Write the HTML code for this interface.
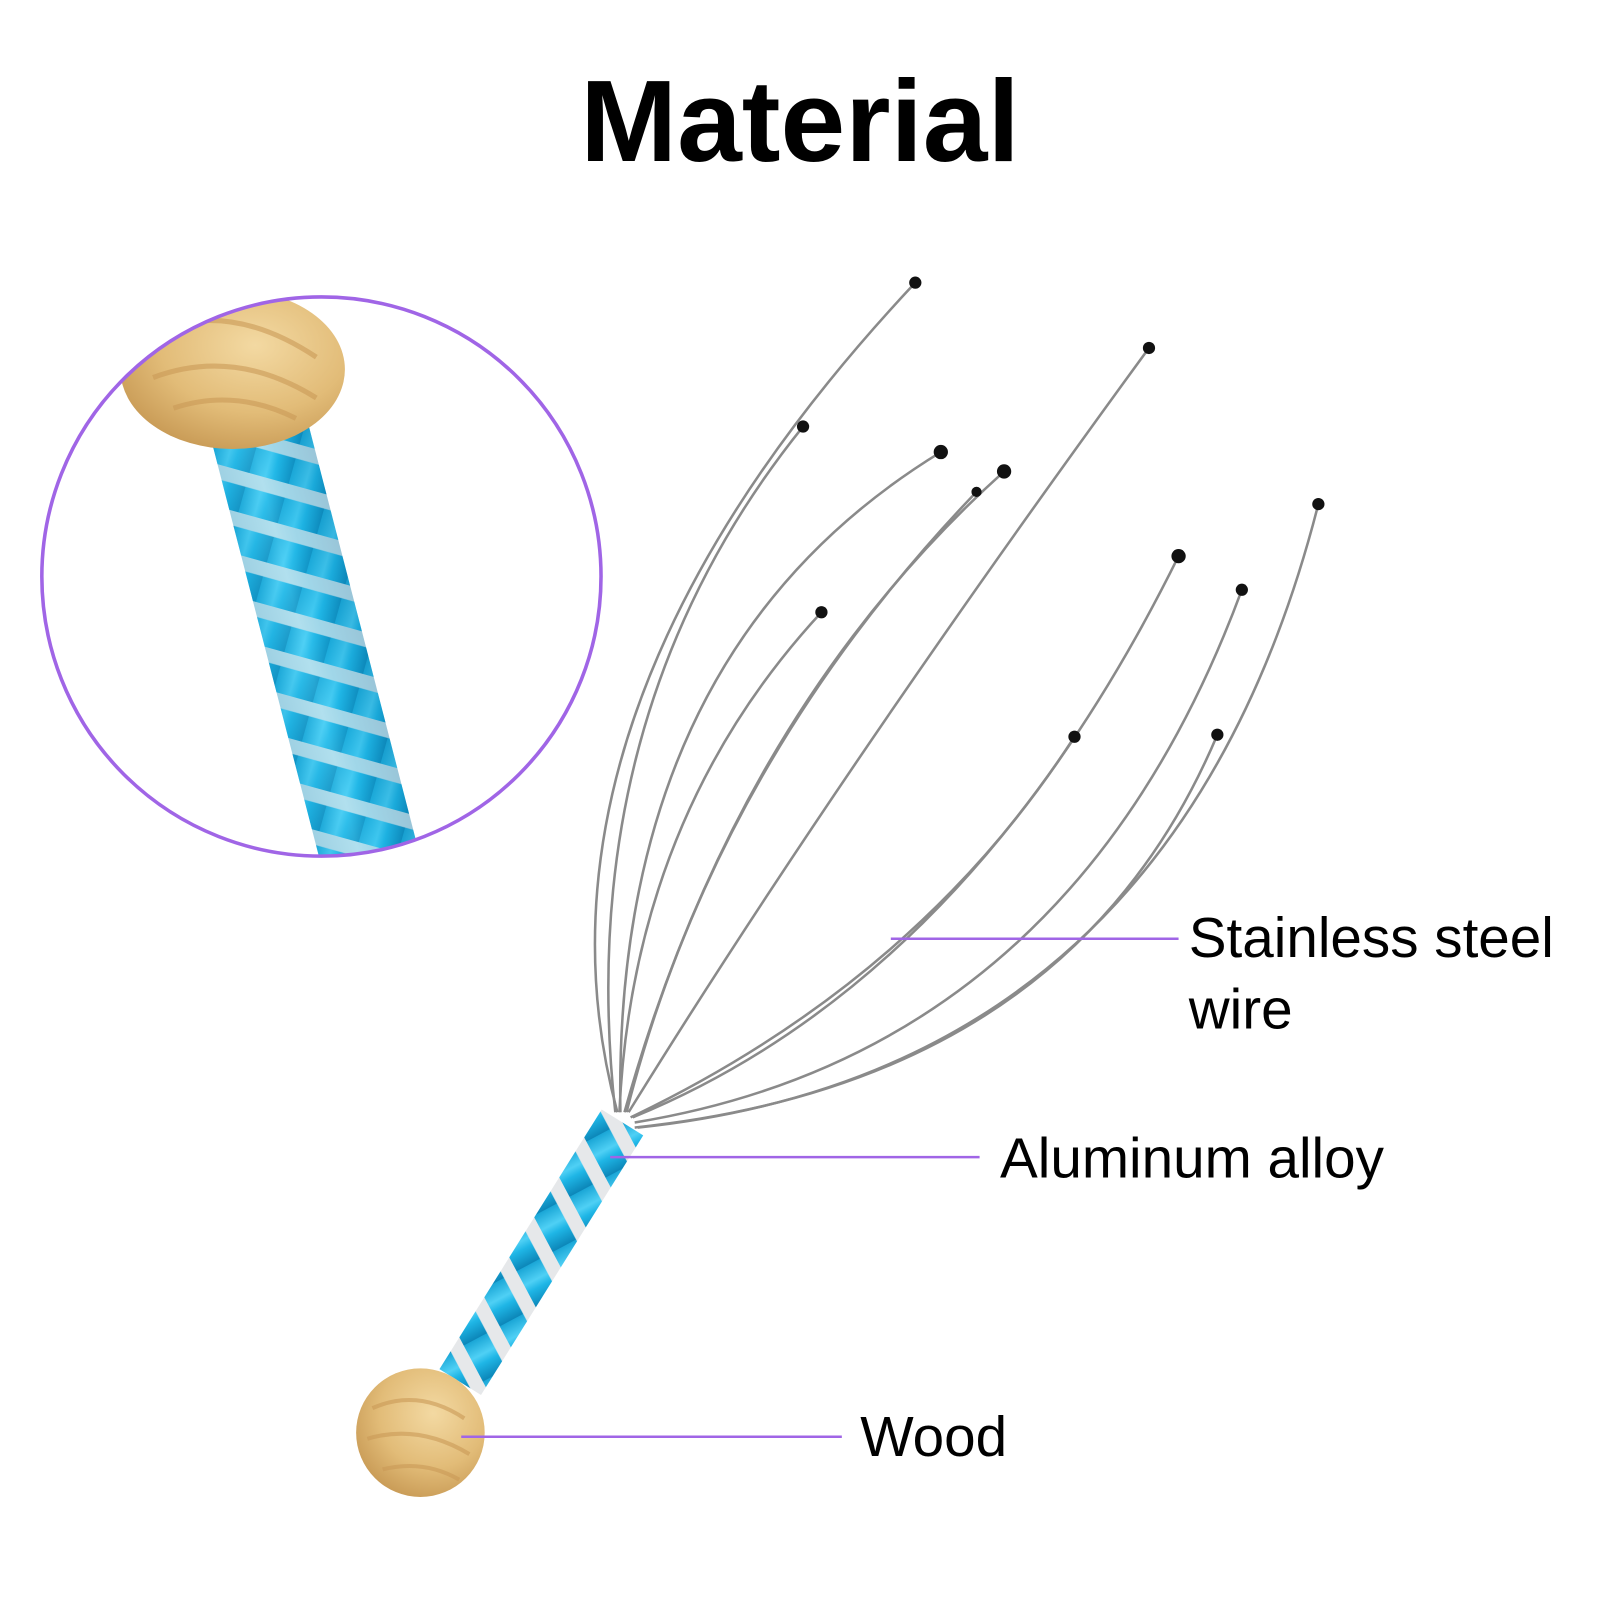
<!DOCTYPE html>
<html><head><meta charset="utf-8"><style>
html,body{margin:0;padding:0;background:#fff;width:1600px;height:1600px;overflow:hidden}
svg{display:block}
</style></head><body>
<svg width="1600" height="1600" viewBox="0 0 1568 1568" xmlns="http://www.w3.org/2000/svg">
<defs>
<clipPath id="cc"><circle cx="315" cy="565" r="274"/></clipPath>
<linearGradient id="blue" x1="0" y1="0" x2="1" y2="0">
<stop offset="0" stop-color="#1aa6d6"/><stop offset="0.4" stop-color="#4fd0f5"/><stop offset="0.6" stop-color="#1fb6e6"/><stop offset="1" stop-color="#0c86b8"/></linearGradient>
<radialGradient id="wood" cx="0.6" cy="0.35" r="0.7"><stop offset="0" stop-color="#f3d9a2"/><stop offset="0.6" stop-color="#e2bc78"/><stop offset="1" stop-color="#c89a55"/></radialGradient>
<pattern id="stripe" width="40" height="40" patternUnits="userSpaceOnUse" patternTransform="rotate(30)">
<rect width="40" height="40" fill="url(#blue)"/><rect y="0" width="40" height="14" fill="#e6e8ea"/></pattern>
</defs>
<text x="784" y="158" text-anchor="middle" font-family="Liberation Sans, sans-serif" font-weight="bold" font-size="114" fill="#000">Material</text>
<g clip-path="url(#cc)">
<g transform="translate(255,425) rotate(-14.5)">
<rect x="-48" y="0" width="96" height="430" fill="url(#stripe)"/>
<rect x="-48" y="0" width="96" height="430" fill="url(#blue)" opacity="0.35"/>
</g>
<ellipse cx="228" cy="362" rx="110" ry="78" fill="url(#wood)"/>
<path d="M140 330 q80 -40 170 20 M150 370 q80 -30 160 20 M170 400 q60 -20 120 10" stroke="#c99a56" stroke-width="5" fill="none" opacity="0.6"/>
</g>
<circle cx="315" cy="565" r="274" fill="none" stroke="#a065e6" stroke-width="3.5"/>
<g fill="none" stroke="#8a8a8a" stroke-width="2.5">
<path d="M605 1090 Q500 700 897 277"/>
<path d="M603 1090 Q560 700 787 418"/>
<path d="M608 1090 Q600 640 922 443"/>
<path d="M612 1090 Q720 700 984 462"/>
<path d="M614 1090 Q700 750 957 482"/>
<path d="M616 1090 Q820 760 1126 341"/>
<path d="M607 1090 Q620 800 805 600"/>
<path d="M620 1095 Q950 960 1155 545"/>
<path d="M622 1100 Q1050 1030 1217 578"/>
<path d="M625 1105 Q1150 1050 1292 494"/>
<path d="M618 1095 Q900 960 1053 722"/>
<path d="M622 1105 Q1050 1060 1193 720"/>
</g>
<g fill="#111">
<circle cx="897" cy="277" r="6"/><circle cx="787" cy="418" r="6"/><circle cx="922" cy="443" r="7"/><circle cx="984" cy="462" r="7"/><circle cx="957" cy="482" r="5"/><circle cx="1126" cy="341" r="6"/><circle cx="805" cy="600" r="6"/><circle cx="1155" cy="545" r="7"/><circle cx="1217" cy="578" r="6"/><circle cx="1292" cy="494" r="6"/><circle cx="1053" cy="722" r="6"/><circle cx="1193" cy="720" r="6"/>
</g>
<g transform="translate(610,1100) rotate(32)">
<rect x="-24" y="0" width="48" height="300" fill="url(#stripe)"/>
</g>
<circle cx="412" cy="1404" r="63" fill="url(#wood)"/>
<path d="M365 1380 q45 -20 90 10 M360 1410 q50 -15 100 15 M375 1440 q40 -10 75 10" stroke="#c99a56" stroke-width="4" fill="none" opacity="0.6"/>
<g stroke="#a065e6" stroke-width="2.5">
<line x1="873" y1="920" x2="1155" y2="920"/>
<line x1="598" y1="1134" x2="960" y2="1134"/>
<line x1="452" y1="1408" x2="825" y2="1408"/>
</g>
<g font-family="Liberation Sans, sans-serif" font-size="55.5" fill="#000">
<text x="1165" y="938">Stainless steel</text>
<text x="1165" y="1008">wire</text>
<text x="980" y="1154">Aluminum alloy</text>
<text x="843" y="1427">Wood</text>
</g>
</svg>
</body></html>
